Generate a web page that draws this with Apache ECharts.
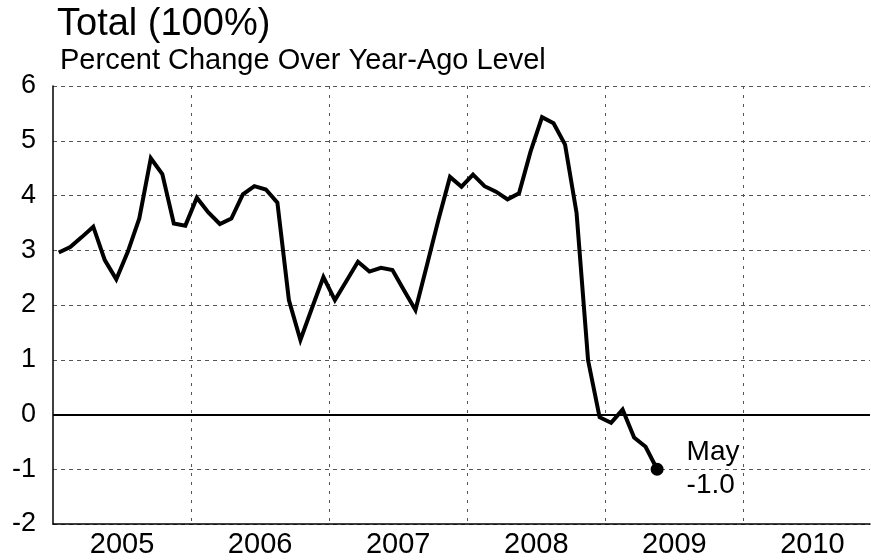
<!DOCTYPE html>
<html>
<head>
<meta charset="utf-8">
<script src="https://cdn.jsdelivr.net/npm/echarts@6/dist/echarts.min.js"></script>
<style>
html, body { margin: 0; padding: 0; background: #fff; }
#main { width: 871px; height: 560px; }
</style>
</head>
<body>
<div id="main"></div>
<script>
// monthly values, Jan 2005 .. May 2009 (percent change over year-ago level)
var values = [
	2.96, 3.06, 3.24, 3.43, 2.82, 2.47, 2.97, 3.58, 4.68, 4.39, 3.49, 3.45,
	3.96, 3.69, 3.48, 3.58, 4.02, 4.17, 4.11, 3.87, 2.09, 1.36, 1.94, 2.51,
	2.09, 2.44, 2.79, 2.61, 2.68, 2.64, 2.27, 1.91, 2.73, 3.56, 4.34, 4.16,
	4.38, 4.17, 4.07, 3.93, 4.04, 4.80, 5.43, 5.32, 4.93, 3.68, 0.99, -0.05,
	-0.15, 0.09, -0.42, -0.59, -1.0
];
var years = ['2005', '2006', '2007', '2008', '2009', '2010'];
var yTicks = [-2, -1, 0, 1, 2, 3, 4, 5, 6];
var lastLabel = 'May';

var font = 'Liberation Sans, Arial, sans-serif';

// x position = months since Jan 2005, points sit mid-month
var lineData = values.map(function(v, i) {
	return [i + 0.5, v];
});
var last = lineData[lineData.length - 1];

var myChart = echarts.init(document.getElementById('main'));
var option = {
	animation: false,
	textStyle: { fontFamily: font, color: '#000' },
	title: [{
		text: 'Total (100%)',
		left: 52,
		top: 1,
		textStyle: { fontFamily: font, fontSize: 38, fontWeight: 'normal', color: '#000' }
	}, {
		text: 'Percent Change Over Year-Ago Level',
		left: 55,
		top: 41,
		textStyle: { fontFamily: font, fontSize: 29, fontWeight: 'normal', color: '#000' }
	}],
	grid: {
		left: 53,
		right: 1,
		top: 86,
		bottom: 36
	},
	xAxis: [{
		type: 'value',
		min: 0,
		max: 71,
		interval: 12,
		axisLine: { show: true, onZero: false, lineStyle: { color: '#000', width: 1.5 } },
		axisTick: { show: false },
		axisLabel: { show: false },
		splitLine: {
			show: true,
			showMinLine: false,
			showMaxLine: false,
			lineStyle: { color: '#555', type: [3, 6], width: 1 }
		}
	}, {
		type: 'value',
		position: 'bottom',
		min: 0,
		max: 71,
		interval: 6,
		axisLine: { show: false },
		axisTick: { show: false },
		splitLine: { show: false },
		axisLabel: {
			show: true,
			fontFamily: font,
			fontSize: 29,
			color: '#000',
			margin: 6,
			showMinLabel: false,
			showMaxLabel: false,
			formatter: function(v) {
				if (v % 12 === 6) return years[(v - 6) / 12];
				return '';
			}
		}
	}],
	yAxis: {
		type: 'value',
		min: yTicks[0],
		max: yTicks[yTicks.length - 1],
		interval: 1,
		axisLine: { show: true, onZero: false, lineStyle: { color: '#000', width: 1.5 } },
		axisTick: { show: false },
		axisLabel: { fontFamily: font, fontSize: 27, color: '#000', margin: 17 },
		splitLine: {
			show: true,
			lineStyle: { color: '#555', type: [4, 4], width: 1 }
		}
	},
	series: [{
		type: 'line',
		data: lineData,
		showSymbol: false,
		symbol: 'none',
		lineStyle: { color: '#000', width: 4, join: 'miter', miterLimit: 4 },
		markLine: {
			silent: true,
			symbol: 'none',
			label: { show: false },
			lineStyle: { color: '#000', type: 'solid', width: 2 },
			data: [{ yAxis: 0 }]
		},
		z: 3
	}, {
		type: 'scatter',
		data: [last],
		symbol: 'circle',
		symbolSize: 13,
		itemStyle: { color: '#000', opacity: 1 },
		label: {
			show: true,
			position: 'right',
			distance: 23,
			fontFamily: font,
			fontSize: 28,
			lineHeight: 33,
			color: '#000',
			formatter: function(p) {
				return lastLabel + '\n' + p.value[1].toFixed(1);
			}
		},
		z: 4
	}]
};
myChart.setOption(option);
</script>
</body>
</html>
